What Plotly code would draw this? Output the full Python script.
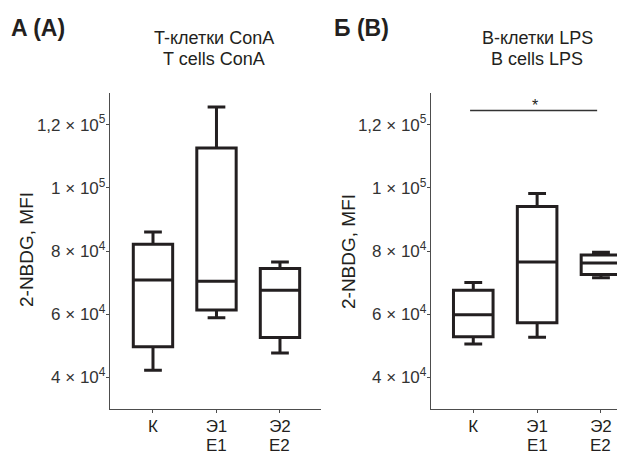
import plotly.graph_objects as go

# ---- data ----
categories = ["К", "Э1", "Э2"]
cat_row1 = ["К", "Э1", "Э2"]
cat_row2 = ["", "Е1", "Е2"]

# Panel A: T cells ConA
t_low = [42300, 58900, 47700]
t_q1 = [49700, 61300, 52600]
t_med = [70800, 70400, 67600]
t_q3 = [82100, 112600, 74500]
t_high = [86000, 125600, 76500]

# Panel B: B cells LPS
b_low = [50600, 52700, 71500]
b_q1 = [52900, 57300, 72600]
b_med = [59800, 76500, 76200]
b_q3 = [67600, 94100, 78700]
b_high = [70000, 98200, 79600]

sig_level = 124500
sig_label = "*"

tick_vals = [40000, 60000, 80000, 100000, 120000]
tick_text = ["4 × 10<sup>4</sup>", "6 × 10<sup>4</sup>", "8 × 10<sup>4</sup>",
             "1 × 10<sup>5</sup>", "1,2 × 10<sup>5</sup>"]
y_title = "2-NBDG, MFI"

FONT = "Liberation Sans, Arial, sans-serif"
LINE = "#231f20"
AX = "#4d4d4d"
W, H = 625, 457
OFF = 8  # page body margin


def px(x):
    return (x - OFF) / W


def py(y):
    return 1 - (y - OFF) / H


pos = [1, 2, 3]

fig = go.Figure()


def add_box(low, q1, med, q3, high, xa, ya):
    fig.add_trace(go.Box(
        x=pos, lowerfence=low, q1=q1, median=med, q3=q3, upperfence=high,
        xaxis=xa, yaxis=ya, width=0.62, whiskerwidth=0.45,
        fillcolor="rgba(0,0,0,0)", line=dict(color=LINE, width=3),
        showlegend=False, boxpoints=False, hoverinfo="skip"))


add_box(t_low, t_q1, t_med, t_q3, t_high, "x", "y")
add_box(b_low, b_q1, b_med, b_q3, b_high, "x2", "y2")

common_x = dict(tickmode="array", tickvals=pos, ticktext=cat_row1,
                showline=True, linecolor=AX, linewidth=1.3, ticks="outside",
                ticklen=3, tickcolor=AX, showgrid=False, zeroline=False,
                ticklabelstandoff=-2,
                tickfont=dict(family=FONT, size=17, color="#231f20"))
common_y = dict(tickmode="array", tickvals=tick_vals, ticktext=tick_text,
                showline=True, linecolor=AX, linewidth=1.3, ticks="outside",
                ticklen=3, tickcolor=AX, showgrid=False, zeroline=False,
                range=[30000, 130000], ticklabelstandoff=-3,
                tickfont=dict(family=FONT, size=17, color="#333333"))

bottom = 409

fig.update_layout(
    width=W, height=H,
    margin=dict(l=0, r=0, t=0, b=0),
    plot_bgcolor="white", paper_bgcolor="white",
    xaxis=dict(domain=[px(110), px(321)], range=[0.323, 3.646], anchor="y", **common_x),
    yaxis=dict(domain=[py(bottom), py(93)], anchor="x", **common_y),
    xaxis2=dict(domain=[px(431), 1.0], range=[0.338, 0.338 + (W - px(431) * W) / 63.85],
                anchor="y2", **common_x),
    yaxis2=dict(domain=[py(bottom), py(93)], anchor="x2", **common_y),
)

# second row of category labels (English)
for xa in ["x", "x2"]:
    for p, t in zip(pos, cat_row2):
        if t:
            fig.add_annotation(xref=xa, yref="paper", x=p, y=py(445), yanchor="middle",
                               text=t, showarrow=False,
                               font=dict(family=FONT, size=17, color="#231f20"))

# y-axis titles
for cx, cy in [(26, 250), (348, 252)]:
    fig.add_annotation(xref="paper", yref="paper", x=px(cx), y=py(cy), xanchor="center",
                       yanchor="middle", text=y_title, textangle=-90, showarrow=False,
                       font=dict(family=FONT, size=19, color="#231f20"))

# significance bar
fig.add_shape(type="line", xref="x2", yref="y2", x0=pos[0] - 0.05, x1=pos[2] - 0.06,
              y0=sig_level, y1=sig_level, line=dict(color="#333", width=1.5))
fig.add_annotation(xref="x2", yref="y2", x=(pos[0] + pos[2]) / 2 - 0.04, y=sig_level,
                   text=sig_label, showarrow=False, yanchor="bottom", yshift=-6,
                   font=dict(family=FONT, size=16, color="#231f20"))

# titles
for cx, l1, l2 in [(214, "T-клетки ConA", "T cells ConA"), (537, "B-клетки LPS", "B cells LPS")]:
    fig.add_annotation(xref="paper", yref="paper", x=px(cx), y=py(38.5), xanchor="center",
                       yanchor="middle", text=l1, showarrow=False,
                       font=dict(family=FONT, size=18, color="#231f20"))
    fig.add_annotation(xref="paper", yref="paper", x=px(cx), y=py(59.5), xanchor="center",
                       yanchor="middle", text=l2, showarrow=False,
                       font=dict(family=FONT, size=18, color="#231f20"))

# panel labels
for lx, lab in [(9, "<b>A (A)</b>"), (332, "<b>Б (B)</b>")]:
    fig.add_annotation(xref="paper", yref="paper", x=px(lx), y=py(28), xanchor="left",
                       yanchor="middle", text=lab, showarrow=False,
                       font=dict(family=FONT, size=23, color="#231f20"))

fig.write_html("out.html")
